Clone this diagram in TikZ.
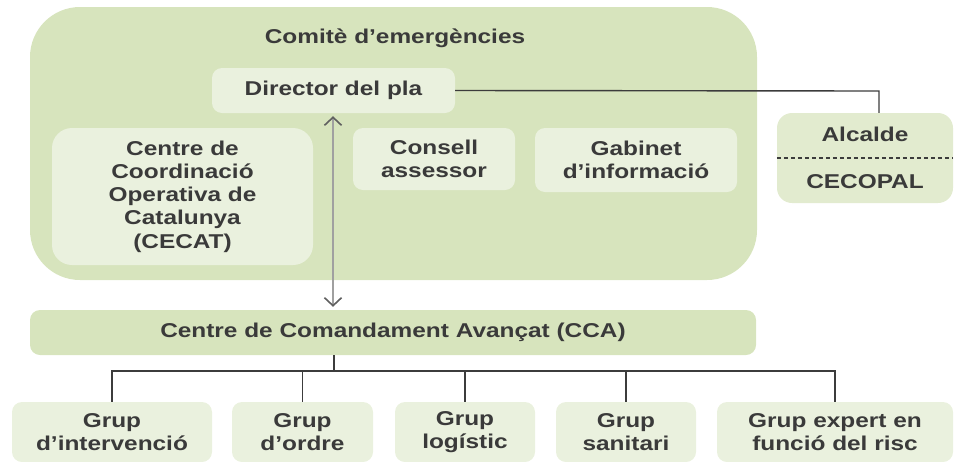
\documentclass[tikz,border=0pt]{standalone}
\usepackage{fontspec}
\setmainfont{Liberation Sans}[FakeStretch=1.22]
\usetikzlibrary{positioning}
\usetikzlibrary{arrows.meta}

\begin{document}
\begin{tikzpicture}[x=1pt, y=-1pt,
    box/.style={inner sep=0pt, align=center, text=textgray,
      font=\fontsize{20}{23.3}\selectfont\bfseries},
    inner/.style={box, fill=innergreen, rounded corners=10pt},
    link/.style={draw=linegray, line width=1.4pt},
    barb/.tip={Straight Barb[color=tipgray, length=8pt, width=17pt, line width=1.6pt]}]
      % Define colors
      \definecolor{outergreen}{RGB}{215, 228, 189}
      \definecolor{innergreen}{RGB}{234, 241, 222}
      \definecolor{sidegreen}{RGB}{226, 235, 207}
      \definecolor{textgray}{RGB}{58, 58, 58}
      \definecolor{linegray}{RGB}{60, 60, 60}
      \definecolor{arrowgray}{RGB}{160, 160, 160}
      \definecolor{tipgray}{RGB}{95, 95, 95}

      \useasboundingbox (0,0) rectangle (956,461);

      % Emergency committee
      \node[box, fill=outergreen, rounded corners=50pt,
            minimum width=727pt, minimum height=273pt] (comite) at (393.5,143.5) {};
      \node[box] (titol) at (395,38) {Comitè d’emergències};

      \node[inner, minimum width=243pt, minimum height=45pt] (director) at (333.5,90.5) {Director del pla};
      \node[inner, rounded corners=20pt, minimum width=261pt, minimum height=137pt] (cecat) at (182.5,196.5)
        {Centre de\\Coordinació\\Operativa de\\Catalunya\\(CECAT)};
      \node[inner, minimum width=162pt, minimum height=62pt] (consell) at (434,159) {Consell\\assessor};
      \node[inner, minimum width=202pt, minimum height=64pt] (gabinet) at (636,160) {Gabinet\\d’informació};

      % Mayor / CECOPAL
      \node[box, fill=sidegreen, rounded corners=15pt,
            minimum width=176pt, minimum height=90pt] (alcalde) at (865,158) {};
      \node[box] (alcaldetxt) at (865,134) {Alcalde};
      \node[box] (cecopal) at (865,182) {CECOPAL};
      \draw[linegray, line width=1.2pt, dash pattern=on 4pt off 3pt] (alcalde.west) -- (alcalde.east);

      \coordinate (turn) at (879,91);
      \draw[link] (director.east) -- (turn) -- (turn |- alcalde.north);

      % Advanced command centre
      \node[box, fill=outergreen, rounded corners=10pt,
            minimum width=726pt, minimum height=45pt] (cca) at (393,332.5) {Centre de Comandament Avançat (CCA)};

      \draw[arrowgray, line width=2.8pt, barb-barb]
        ([yshift=-3pt]director.south -| 333,0) -- ([yshift=3pt]cca.north -| 333,0);

      % Action groups
      \node[inner, minimum width=200pt, minimum height=60pt] (intervencio) at (112,432) {Grup\\d’intervenció};
      \node[inner, minimum width=141pt, minimum height=60pt] (ordre) at (302.5,432) {Grup\\d’ordre};
      \node[inner, minimum width=140pt, minimum height=60pt] (logistic) at (465,432) {Grup\\logístic};
      \node[inner, minimum width=140pt, minimum height=60pt] (sanitari) at (626,432) {Grup\\sanitari};
      \node[inner, minimum width=236pt, minimum height=60pt] (expert) at (835,432) {Grup expert en\\funció del risc};

      \coordinate (bus) at (334,371);
      \draw[link] (cca.south -| bus) -- (bus);
      \draw[link] (intervencio.north) |- (bus) -| (expert.north);
      \foreach \g in {ordre, logistic, sanitari}
        \draw[link] (\g.north) -- (\g.north |- bus);

    \end{tikzpicture}
\end{document}
